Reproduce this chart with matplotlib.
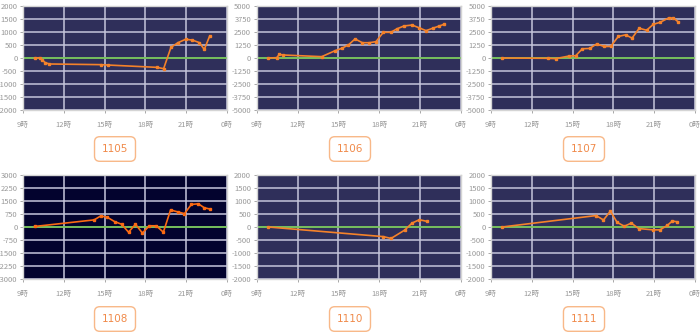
import matplotlib
matplotlib.use('Agg')
import matplotlib.pyplot as plt
import numpy as np

plt.rcParams['font.family'] = ['Noto Sans CJK JP', 'DejaVu Sans']
plt.rcParams['axes.unicode_minus'] = False

# 時刻 (時) と損益
hours_1105 = [9.85, 10.23, 10.42, 10.64, 10.94, 14.74, 15.23, 18.85, 19.34, 19.88,
              20.4, 20.96, 21.45, 21.97, 22.33, 22.73]
vals_1105 = [0, 10, -80, -180, -230, -256, -270, -360, -410, 410,
             590, 720, 690, 590, 330, 850]

hours_1106 = [9.86, 10.47, 10.67, 10.91, 13.78, 14.76, 15.25, 15.74, 16.23, 16.77,
              17.28, 17.77, 18.31, 18.85, 19.34, 19.83, 20.42, 20.91, 21.45, 21.99,
              22.43, 22.77]
vals_1106 = [0, 30, 350, 290, 130, 700, 930, 1250, 1830, 1470,
             1470, 1570, 2470, 2470, 2820, 3080, 3170, 2920, 2630, 2880,
             3080, 3240]

hours_1107 = [9.83, 13.17, 13.75, 14.74, 15.23, 15.72, 16.25, 16.77, 17.31, 17.8,
              18.36, 18.9, 19.37, 19.9, 20.44, 20.94, 21.43, 22.06, 22.41, 22.77]
vals_1107 = [0, -30, -60, 190, 220, 890, 920, 1350, 1110, 1110,
             2070, 2230, 1910, 2860, 2670, 3240, 3430, 3850, 3850, 3470]

hours_1108 = [9.85, 14.23, 14.72, 15.2, 15.74, 16.25, 16.76, 17.27, 17.78, 18.29,
              18.8, 19.32, 19.85, 20.39, 20.87, 21.38, 21.89, 22.33, 22.72]
vals_1108 = [30, 410, 640, 560, 310, 160, -300, 160, -350, 70,
             70, -300, 980, 870, 770, 1300, 1340, 1110, 1040]

hours_1110 = [9.86, 18.31, 18.88, 19.88, 20.42, 20.96, 21.5]
vals_1110 = [0, -370, -440, -120, 150, 280, 220]

hours_1111 = [9.81, 16.73, 17.27, 17.78, 18.27, 18.8, 19.32, 19.86, 20.93, 21.42,
              21.96, 22.33, 22.69]
vals_1111 = [0, 440, 270, 610, 180, 30, 150, -60, -110, -110,
             60, 230, 200]

codes = ['1105', '1106', '1107', '1108', '1110', '1111']
hours = [hours_1105, hours_1106, hours_1107, hours_1108, hours_1110, hours_1111]
vals = [vals_1105, vals_1106, vals_1107, vals_1108, vals_1110, vals_1111]
ylims = [2000, 5000, 5000, 3000, 2000, 2000]

x_ticks = [9, 12, 15, 18, 21, 24]
x_labels = ['9時', '12時', '15時', '18時', '21時', '0時']

# 各グラフの位置 (左, 下, 幅, 高さ) とラベル位置
lefts = [23 / 700, 256.7 / 700, 491 / 700]
rows = [(1 - 110 / 336, 104 / 336), (1 - 279 / 336, 104 / 336)]
label_y = [1 - 149 / 336, 1 - 319 / 336]
label_x = [115 / 700, 350 / 700, 584 / 700]

fig = plt.figure(figsize=(7, 3.36), dpi=100)

for i, code in enumerate(codes):
    r, c = divmod(i, 3)
    bottom, height = rows[r]
    ax = fig.add_axes([lefts[c], bottom, 204 / 700, height])
    dark = code == '1108'
    ax.set_facecolor('#03032e' if dark else '#2f2f5a')
    lim = ylims[i]
    yt = np.linspace(-lim, lim, 9)
    ax.set_ylim(-lim, lim)
    ax.set_xlim(9, 24)
    ax.set_yticks(yt)
    ax.set_yticklabels(['%d' % v for v in yt])
    ax.set_xticks(x_ticks)
    ax.set_xticklabels(x_labels)
    ax.grid(True, color='#c6c6dc', linewidth=1.1)
    ax.set_axisbelow(True)
    ax.tick_params(labelsize=5.5, colors='#999999', length=2, width=0.6, pad=2)
    ax.tick_params(axis='x', pad=6)
    for s in ax.spines.values():
        s.set_color('#d4d4d4')
        s.set_linewidth(1.0)
    ax.axhline(0, color='#6cc24a', linewidth=1.2, zorder=2)
    ax.plot(hours[i], vals[i], color='#fb6a12' if dark else '#f5822a',
            linewidth=1.2, marker='s', markersize=2.0, zorder=3)
    fig.text(label_x[c], label_y[r], code, ha='center', va='center',
             fontsize=7.5, color='#f08a4a', family=['DejaVu Sans'],
             bbox=dict(boxstyle='round,pad=0.7,rounding_size=0.5',
                       facecolor='white', edgecolor='#f8b888', linewidth=1.0))

fig.savefig('out.png', dpi=100)
